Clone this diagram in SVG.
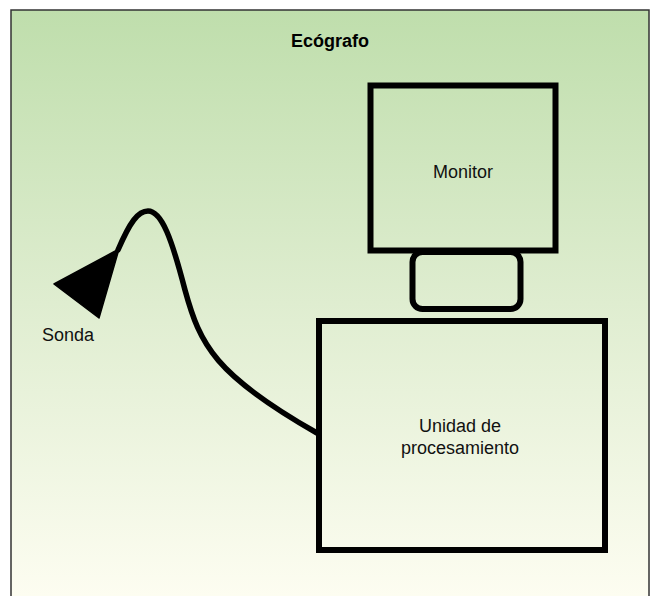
<svg xmlns="http://www.w3.org/2000/svg" width="651" height="596" viewBox="0 0 651 596">
  <defs>
    <linearGradient id="bg" x1="0" y1="10" x2="0" y2="596" gradientUnits="userSpaceOnUse">
      <stop offset="0" stop-color="#bfdeac"/>
      <stop offset="0.5" stop-color="#dfedd0"/>
      <stop offset="1" stop-color="#fdfdf1"/>
    </linearGradient>
    <style>
      .box { fill: none; stroke: #000; stroke-width: 6; }
      .lbl { font-family: "Liberation Sans", Arial, sans-serif; font-size: 18px; fill: #111; text-anchor: middle; }
      .title { font-family: "Liberation Sans", Arial, sans-serif; font-size: 18px; font-weight: bold; fill: #000; text-anchor: middle; }
    </style>
  </defs>
  <rect x="0" y="0" width="651" height="596" fill="#ffffff"/>
  <rect id="frame" x="11" y="10" width="638" height="600" fill="url(#bg)" stroke="#333" stroke-width="1.5"/>
  <text class="title" x="330" y="47">Ecógrafo</text>

  <g id="connectors">
    <path d="M118,250 C130,222 138,211 148,211 C162,211 172,240 185,290 C200,345 215,375 317,433" fill="none" stroke="#000" stroke-width="5.5" stroke-linecap="round"/>
  </g>

  <g id="sonda">
    <polygon points="54,284 99,318 119,249" fill="#000" stroke="#000" stroke-width="1.5" stroke-linejoin="round"/>
    <text class="lbl" x="68" y="341">Sonda</text>
  </g>

  <g id="monitor">
    <rect class="box" x="370.5" y="85.5" width="185" height="165" stroke-width="5.5"/>
    <text class="lbl" x="463" y="178">Monitor</text>
  </g>

  <g id="soporte">
    <rect class="box" x="412.5" y="252" width="108" height="57" rx="10" ry="10" stroke-width="5.5"/>
  </g>

  <g id="unidad">
    <rect class="box" x="319" y="321" width="286" height="229"/>
    <text class="lbl" x="460" y="432">Unidad de</text>
    <text class="lbl" x="460" y="454">procesamiento</text>
  </g>
</svg>
